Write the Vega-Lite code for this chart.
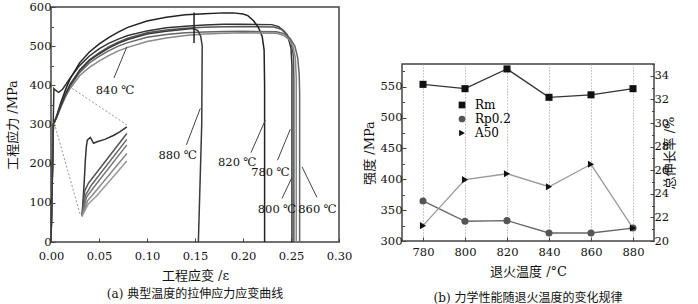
{
  "$schema": "https://vega.github.io/schema/vega-lite/v6.json",
  "padding": {"left": 5, "top": 0, "right": 0, "bottom": 0},
  "background": "white",
  "bounds": "flush",
  "spacing": 63,
  "config": {
    "font": "DejaVu Serif, Noto Sans CJK SC",
    "axis": {"labelFont": "DejaVu Serif", "titleFont": "DejaVu Serif, Noto Sans CJK SC", "labelFontSize": 11.5, "titleFontSize": 13, "titleFontWeight": "normal", "labelColor": "#111", "titleColor": "#111", "tickColor": "#444", "domain": false, "grid": false, "labelPadding": 4, "labelOverlap": false, "labelFlush": false},
    "view": {"stroke": "#444", "strokeWidth": 1.5},
    "title": {"font": "DejaVu Serif, Noto Sans CJK SC", "fontSize": 12, "fontWeight": "normal", "color": "#111"},
    "legend": {"labelFont": "DejaVu Serif"}
  },
  "datasets": {
    "curves": [
      {"id":"780","i":0,"e":0,"s":0},{"id":"780","i":1,"e":0.003,"s":392},{"id":"780","i":2,"e":0.005,"s":387},{"id":"780","i":3,"e":0.008,"s":382},{"id":"780","i":4,"e":0.012,"s":390},{"id":"780","i":5,"e":0.016,"s":404},{"id":"780","i":6,"e":0.02,"s":419},{"id":"780","i":7,"e":0.03,"s":451},{"id":"780","i":8,"e":0.04,"s":475},{"id":"780","i":9,"e":0.05,"s":493},{"id":"780","i":10,"e":0.06,"s":507},{"id":"780","i":11,"e":0.07,"s":518},{"id":"780","i":12,"e":0.08,"s":527},{"id":"780","i":13,"e":0.1,"s":539},{"id":"780","i":14,"e":0.12,"s":547},{"id":"780","i":15,"e":0.14,"s":551},{"id":"780","i":16,"e":0.16,"s":554},{"id":"780","i":17,"e":0.18,"s":556},{"id":"780","i":18,"e":0.2,"s":556},{"id":"780","i":19,"e":0.23,"s":555},{"id":"780","i":20,"e":0.237,"s":550},{"id":"780","i":21,"e":0.243,"s":538},{"id":"780","i":22,"e":0.247,"s":522},{"id":"780","i":23,"e":0.25,"s":495},{"id":"780","i":24,"e":0.251,"s":450},{"id":"780","i":25,"e":0.251,"s":0},
      {"id":"800","i":0,"e":0,"s":0},{"id":"800","i":1,"e":0.0025,"s":300},{"id":"800","i":2,"e":0.006,"s":320},{"id":"800","i":3,"e":0.01,"s":348},{"id":"800","i":4,"e":0.015,"s":378},{"id":"800","i":5,"e":0.02,"s":403},{"id":"800","i":6,"e":0.03,"s":440},{"id":"800","i":7,"e":0.04,"s":465},{"id":"800","i":8,"e":0.05,"s":483},{"id":"800","i":9,"e":0.06,"s":498},{"id":"800","i":10,"e":0.07,"s":510},{"id":"800","i":11,"e":0.08,"s":520},{"id":"800","i":12,"e":0.1,"s":534},{"id":"800","i":13,"e":0.12,"s":541},{"id":"800","i":14,"e":0.14,"s":546},{"id":"800","i":15,"e":0.16,"s":548},{"id":"800","i":16,"e":0.18,"s":549.5},{"id":"800","i":17,"e":0.2,"s":550},{"id":"800","i":18,"e":0.232,"s":549},{"id":"800","i":19,"e":0.24,"s":543},{"id":"800","i":20,"e":0.246,"s":530},{"id":"800","i":21,"e":0.25,"s":510},{"id":"800","i":22,"e":0.2525,"s":475},{"id":"800","i":23,"e":0.253,"s":420},{"id":"800","i":24,"e":0.253,"s":0},
      {"id":"820","i":0,"e":0,"s":0},{"id":"820","i":1,"e":0.0025,"s":300},{"id":"820","i":2,"e":0.006,"s":323},{"id":"820","i":3,"e":0.01,"s":354},{"id":"820","i":4,"e":0.015,"s":388},{"id":"820","i":5,"e":0.02,"s":417},{"id":"820","i":6,"e":0.03,"s":458},{"id":"820","i":7,"e":0.04,"s":485},{"id":"820","i":8,"e":0.05,"s":505},{"id":"820","i":9,"e":0.06,"s":522},{"id":"820","i":10,"e":0.07,"s":536},{"id":"820","i":11,"e":0.08,"s":548},{"id":"820","i":12,"e":0.1,"s":564},{"id":"820","i":13,"e":0.12,"s":574},{"id":"820","i":14,"e":0.14,"s":580},{"id":"820","i":15,"e":0.16,"s":583},{"id":"820","i":16,"e":0.18,"s":585},{"id":"820","i":17,"e":0.19,"s":585},{"id":"820","i":18,"e":0.2,"s":582},{"id":"820","i":19,"e":0.205,"s":578},{"id":"820","i":20,"e":0.211,"s":565},{"id":"820","i":21,"e":0.216,"s":548},{"id":"820","i":22,"e":0.22,"s":525},{"id":"820","i":23,"e":0.222,"s":490},{"id":"820","i":24,"e":0.2225,"s":400},{"id":"820","i":25,"e":0.2225,"s":0},
      {"id":"840","i":0,"e":0,"s":0},{"id":"840","i":1,"e":0.0025,"s":300},{"id":"840","i":2,"e":0.006,"s":318},{"id":"840","i":3,"e":0.01,"s":342},{"id":"840","i":4,"e":0.015,"s":370},{"id":"840","i":5,"e":0.02,"s":392},{"id":"840","i":6,"e":0.03,"s":425},{"id":"840","i":7,"e":0.04,"s":446},{"id":"840","i":8,"e":0.05,"s":462},{"id":"840","i":9,"e":0.06,"s":476},{"id":"840","i":10,"e":0.07,"s":488},{"id":"840","i":11,"e":0.08,"s":497},{"id":"840","i":12,"e":0.1,"s":512},{"id":"840","i":13,"e":0.12,"s":521},{"id":"840","i":14,"e":0.14,"s":527},{"id":"840","i":15,"e":0.16,"s":531},{"id":"840","i":16,"e":0.18,"s":533},{"id":"840","i":17,"e":0.2,"s":534},{"id":"840","i":18,"e":0.235,"s":533},{"id":"840","i":19,"e":0.242,"s":528},{"id":"840","i":20,"e":0.248,"s":517},{"id":"840","i":21,"e":0.252,"s":500},{"id":"840","i":22,"e":0.2545,"s":470},{"id":"840","i":23,"e":0.2555,"s":420},{"id":"840","i":24,"e":0.2555,"s":0},
      {"id":"860","i":0,"e":0,"s":0},{"id":"860","i":1,"e":0.0025,"s":300},{"id":"860","i":2,"e":0.006,"s":319},{"id":"860","i":3,"e":0.01,"s":345},{"id":"860","i":4,"e":0.015,"s":374},{"id":"860","i":5,"e":0.02,"s":398},{"id":"860","i":6,"e":0.03,"s":433},{"id":"860","i":7,"e":0.04,"s":457},{"id":"860","i":8,"e":0.05,"s":474},{"id":"860","i":9,"e":0.06,"s":488},{"id":"860","i":10,"e":0.07,"s":500},{"id":"860","i":11,"e":0.08,"s":509},{"id":"860","i":12,"e":0.1,"s":523},{"id":"860","i":13,"e":0.12,"s":530},{"id":"860","i":14,"e":0.14,"s":534},{"id":"860","i":15,"e":0.16,"s":536},{"id":"860","i":16,"e":0.18,"s":537.5},{"id":"860","i":17,"e":0.2,"s":538},{"id":"860","i":18,"e":0.235,"s":537},{"id":"860","i":19,"e":0.243,"s":532},{"id":"860","i":20,"e":0.249,"s":520},{"id":"860","i":21,"e":0.254,"s":500},{"id":"860","i":22,"e":0.257,"s":470},{"id":"860","i":23,"e":0.2585,"s":430},{"id":"860","i":24,"e":0.259,"s":380},{"id":"860","i":25,"e":0.259,"s":0},
      {"id":"880","i":0,"e":0,"s":0},{"id":"880","i":1,"e":0.0025,"s":300},{"id":"880","i":2,"e":0.006,"s":320},{"id":"880","i":3,"e":0.01,"s":347},{"id":"880","i":4,"e":0.015,"s":377},{"id":"880","i":5,"e":0.02,"s":401},{"id":"880","i":6,"e":0.03,"s":438},{"id":"880","i":7,"e":0.04,"s":463},{"id":"880","i":8,"e":0.05,"s":480},{"id":"880","i":9,"e":0.06,"s":495},{"id":"880","i":10,"e":0.07,"s":507},{"id":"880","i":11,"e":0.08,"s":517},{"id":"880","i":12,"e":0.1,"s":531},{"id":"880","i":13,"e":0.12,"s":538},{"id":"880","i":14,"e":0.14,"s":543},{"id":"880","i":15,"e":0.148,"s":545},{"id":"880","i":16,"e":0.153,"s":540},{"id":"880","i":17,"e":0.156,"s":525},{"id":"880","i":18,"e":0.1575,"s":500},{"id":"880","i":19,"e":0.157,"s":300},{"id":"880","i":20,"e":0.1535,"s":0},
      {"id":"tick","i":0,"e":0.149,"s":586},{"id":"tick","i":1,"e":0.149,"s":508},
      {"id":"i1","i":0,"e":0.0323,"s":66},{"id":"i1","i":1,"e":0.0335,"s":110},{"id":"i1","i":2,"e":0.0347,"s":158},{"id":"i1","i":3,"e":0.0358,"s":210},{"id":"i1","i":4,"e":0.0368,"s":243},{"id":"i1","i":5,"e":0.0378,"s":260},{"id":"i1","i":6,"e":0.041,"s":267},{"id":"i1","i":7,"e":0.0444,"s":252},{"id":"i1","i":8,"e":0.048,"s":256},{"id":"i1","i":9,"e":0.056,"s":262},{"id":"i1","i":10,"e":0.065,"s":272},{"id":"i1","i":11,"e":0.072,"s":282},{"id":"i1","i":12,"e":0.079,"s":294},
      {"id":"i2","i":0,"e":0.0323,"s":66},{"id":"i2","i":1,"e":0.035,"s":130},{"id":"i2","i":2,"e":0.039,"s":150},{"id":"i2","i":3,"e":0.079,"s":277},
      {"id":"i3","i":0,"e":0.0323,"s":66},{"id":"i3","i":1,"e":0.036,"s":120},{"id":"i3","i":2,"e":0.042,"s":145},{"id":"i3","i":3,"e":0.079,"s":262},
      {"id":"i4","i":0,"e":0.0323,"s":66},{"id":"i4","i":1,"e":0.037,"s":115},{"id":"i4","i":2,"e":0.044,"s":138},{"id":"i4","i":3,"e":0.079,"s":248},
      {"id":"i5","i":0,"e":0.0323,"s":66},{"id":"i5","i":1,"e":0.038,"s":105},{"id":"i5","i":2,"e":0.045,"s":125},{"id":"i5","i":3,"e":0.079,"s":226},
      {"id":"i6","i":0,"e":0.0323,"s":66},{"id":"i6","i":1,"e":0.039,"s":98},{"id":"i6","i":2,"e":0.047,"s":116},{"id":"i6","i":3,"e":0.079,"s":207}
    ],
    "dots": [
      {"id":"d1","i":0,"e":0.022,"s":392},{"id":"d1","i":1,"e":0.079,"s":299},
      {"id":"d2","i":0,"e":0.0035,"s":303},{"id":"d2","i":1,"e":0.0305,"s":69}
    ],
    "arrows": [
      {"t":"840","e":0.079,"s":498,"e2":0.0656,"s2":419},
      {"t":"880","e":0.1555,"s":341,"e2":0.141,"s2":248},
      {"t":"820","e":0.2232,"s":311,"e2":0.2083,"s2":228},
      {"t":"780","e":0.2493,"s":288,"e2":0.236,"s2":209},
      {"t":"800","e":0.251,"s":165,"e2":0.2406,"s2":111},
      {"t":"860","e":0.2615,"s":192,"e2":0.277,"s2":114}
    ],
    "labels": [
      {"text":"840 ℃","e":0.0667,"s":385},
      {"text":"880 ℃","e":0.132,"s":220},
      {"text":"820 ℃","e":0.194,"s":202},
      {"text":"780 ℃","e":0.2286,"s":177},
      {"text":"800 ℃","e":0.2354,"s":82},
      {"text":"860 ℃","e":0.2776,"s":82}
    ],
    "props": [
      {"T":780,"series":"Rm","v":554},{"T":800,"series":"Rm","v":547},{"T":820,"series":"Rm","v":579},{"T":840,"series":"Rm","v":533},{"T":860,"series":"Rm","v":537},{"T":880,"series":"Rm","v":547},
      {"T":780,"series":"Rp0.2","v":365},{"T":800,"series":"Rp0.2","v":332},{"T":820,"series":"Rp0.2","v":333},{"T":840,"series":"Rp0.2","v":313},{"T":860,"series":"Rp0.2","v":313},{"T":880,"series":"Rp0.2","v":321},
      {"T":780,"series":"A50","v":21.3},{"T":800,"series":"A50","v":25.2},{"T":820,"series":"A50","v":25.7},{"T":840,"series":"A50","v":24.6},{"T":860,"series":"A50","v":26.5},{"T":880,"series":"A50","v":21.1}
    ]
  },
  "hconcat": [
    {
      "width": 288,
      "height": 235,
      "title": {"text": "(a) 典型温度的拉伸应力应变曲线", "orient": "bottom", "offset": 6, "anchor": "middle"},
      "layer": [
        {
          "data": {"name": "curves"},
          "mark": {"type": "line", "strokeWidth": 1.5},
          "encoding": {
            "x": {"field": "e", "type": "quantitative", "scale": {"domain": [0, 0.3], "nice": false}, "axis": {"orient": "bottom", "offset": 0, "values": [0, 0.05, 0.1, 0.15, 0.2, 0.25, 0.3], "format": ".2f", "tickSize": -4, "labelOverlap": false, "labelPadding": 12, "title": "工程应变 /ε", "titlePadding": 8}},
            "y": {"field": "s", "type": "quantitative", "scale": {"domain": [0, 600], "nice": false}, "axis": {"values": [0, 50, 100, 150, 200, 250, 300, 350, 400, 450, 500, 550, 600], "tickCount": 100, "labelExpr": "datum.value % 100 === 0 ? datum.label : ''", "tickSize": {"condition": {"test": "datum.value % 100 === 0", "value": -4}, "value": -2.5}, "labelOverlap": false, "title": "工程应力 /MPa", "titlePadding": 10}},
            "color": {"field": "id", "type": "nominal", "legend": null, "scale": {"domain": ["780","800","820","840","860","880","tick","i1","i2","i3","i4","i5","i6"], "range": ["#333","#555","#222","#888","#666","#3a3a3a","#222","#333","#555","#666","#777","#888","#999"]}},
            "order": {"field": "i", "type": "quantitative"}
          }
        },
        {
          "data": {"name": "dots"},
          "mark": {"type": "line", "strokeDash": [2, 2], "strokeWidth": 1, "color": "#999"},
          "encoding": {
            "x": {"field": "e", "type": "quantitative"},
            "y": {"field": "s", "type": "quantitative"},
            "detail": {"field": "id"},
            "order": {"field": "i", "type": "quantitative"}
          }
        },
        {
          "data": {"name": "arrows"},
          "mark": {"type": "rule", "color": "#444", "strokeWidth": 1},
          "encoding": {
            "x": {"field": "e", "type": "quantitative"},
            "y": {"field": "s", "type": "quantitative"},
            "x2": {"field": "e2"},
            "y2": {"field": "s2"}
          }
        },
        {
          "data": {"name": "labels"},
          "mark": {"type": "text", "fontSize": 11.5, "font": "DejaVu Serif", "color": "#111"},
          "encoding": {
            "x": {"field": "e", "type": "quantitative"},
            "y": {"field": "s", "type": "quantitative"},
            "text": {"field": "text"}
          }
        }
      ]
    },
    {
      "vconcat": [
        {
          "width": 252,
          "height": 57,
          "view": {"stroke": null},
          "data": {"values": [{"a": 1}]},
          "mark": {"type": "point", "opacity": 0},
          "encoding": {}
        },
        {
          "width": 252,
          "height": 177,
          "title": {"text": "(b) 力学性能随退火温度的变化规律", "orient": "bottom", "offset": 14, "anchor": "middle"},
          "data": {"name": "props"},
          "layer": [
            {
              "layer": [
                {
                  "transform": [{"filter": "datum.series === 'Rm'"}],
                  "mark": {"type": "line", "strokeWidth": 1.3, "color": "#333"},
                  "encoding": {
                    "x": {"field": "T", "type": "quantitative", "scale": {"domain": [770, 890], "nice": false}, "axis": {"values": [780, 800, 820, 840, 860, 880], "tickCount": 100, "format": "d", "labelOverlap": false, "title": "退火温度 /°C", "grid": true, "gridDash": [1, 2], "gridColor": "#999", "tickSize": -4, "labelPadding": 9, "titlePadding": 8}},
                    "y": {"field": "v", "type": "quantitative", "scale": {"domain": [300, 587], "nice": false}, "axis": {"values": [300, 325, 350, 375, 400, 425, 450, 475, 500, 525, 550, 575], "tickCount": 100, "format": "d", "labelExpr": "datum.value % 50 === 0 ? datum.label : ''", "tickSize": {"condition": {"test": "datum.value % 50 === 0", "value": -4}, "value": -2.5}, "labelOverlap": false, "title": "强度 /MPa", "titlePadding": 4}}
                  }
                },
                {
                  "transform": [{"filter": "datum.series === 'Rp0.2'"}],
                  "mark": {"type": "line", "strokeWidth": 1.3, "color": "#666"},
                  "encoding": {
                    "x": {"field": "T", "type": "quantitative"},
                    "y": {"field": "v", "type": "quantitative"}
                  }
                },
                {
                  "transform": [{"filter": "datum.series !== 'A50'"}],
                  "mark": {"type": "point", "filled": true, "opacity": 1, "size": 50},
                  "encoding": {
                    "x": {"field": "T", "type": "quantitative"},
                    "y": {"field": "v", "type": "quantitative"},
                    "fill": {"field": "series", "type": "nominal", "title": null, "scale": {"domain": ["Rm", "Rp0.2", "A50"], "range": ["#111", "#555", "#111"]}, "legend": {"orient": "none", "legendX": 405, "legendY": 92, "labelFontSize": 12, "symbolSize": 45, "rowPadding": 0, "labelOffset": 7}},
                    "shape": {"field": "series", "type": "nominal", "title": null, "scale": {"domain": ["Rm", "Rp0.2", "A50"], "range": ["square", "circle", "triangle-right"]}}
                  }
                }
              ]
            },
            {
              "layer": [
                {
                  "transform": [{"filter": "datum.series === 'A50'"}],
                  "mark": {"type": "line", "strokeWidth": 1.3, "color": "#999"},
                  "encoding": {
                    "x": {"field": "T", "type": "quantitative"},
                    "y": {"field": "v", "type": "quantitative", "scale": {"domain": [20, 35], "nice": false}, "axis": {"orient": "right", "values": [20, 21, 22, 23, 24, 25, 26, 27, 28, 29, 30, 31, 32, 33, 34, 35], "tickCount": 100, "format": "d", "labelExpr": "datum.value % 2 === 0 && datum.value < 35 ? datum.label : ''", "tickSize": {"condition": {"test": "datum.value % 2 === 0", "value": -4}, "value": -2.5}, "labelOverlap": false, "title": "总伸长率 /%", "titleAngle": 270, "titlePadding": 8}}
                  }
                },
                {
                  "transform": [{"filter": "datum.series === 'A50'"}],
                  "mark": {"type": "point", "filled": true, "opacity": 1, "size": 50},
                  "encoding": {
                    "x": {"field": "T", "type": "quantitative"},
                    "y": {"field": "v", "type": "quantitative"},
                    "fill": {"field": "series", "type": "nominal", "title": null},
                    "shape": {"field": "series", "type": "nominal", "title": null}
                  }
                }
              ]
            }
          ],
          "resolve": {"scale": {"y": "independent"}}
        }
      ],
      "spacing": 0,
      "bounds": "flush"
    }
  ]
}
